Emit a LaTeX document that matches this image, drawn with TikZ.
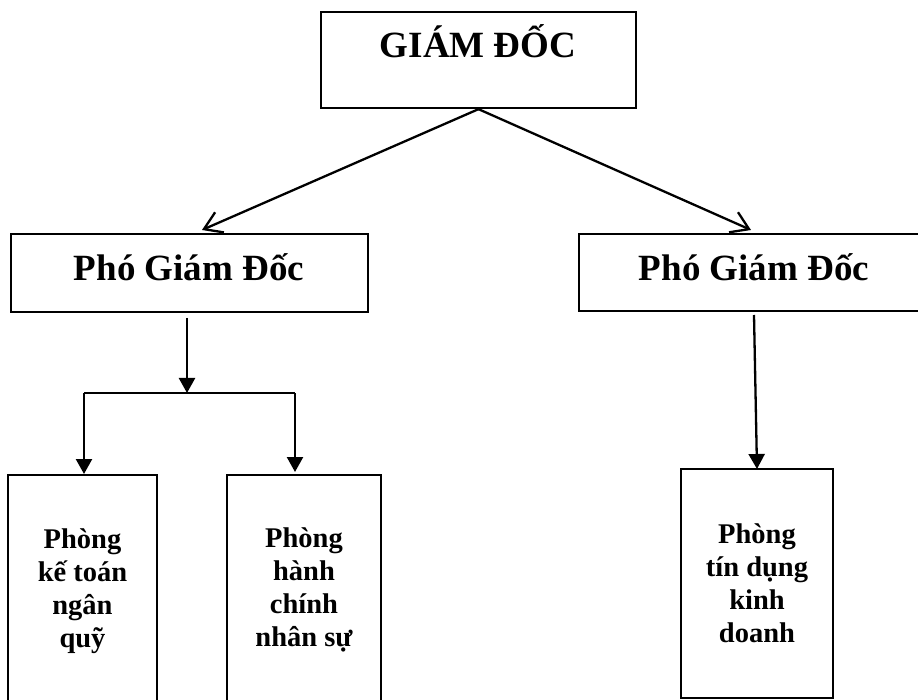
\documentclass[tikz,border=0pt]{standalone}
\usepackage{fontspec}
\setmainfont{Liberation Serif}
\usetikzlibrary{arrows.meta}
\begin{document}
\begin{tikzpicture}[x=1pt,y=-1pt,
  box/.style={draw=black,line width=2.3pt,rectangle,inner sep=0pt},
  bigtxt/.style={font=\fontsize{37}{44}\selectfont\bfseries,inner sep=0pt,anchor=base},
  smalltxt/.style={font=\fontsize{28.5}{33}\selectfont\bfseries,inner sep=0pt,align=center,anchor=center},
  conn/.style={line width=2.3pt},
  barb/.style={conn,-{Straight Barb[length=17pt,width=22pt,line width=2.3pt]}},
  tri/.style={conn,-{Triangle[length=15pt,width=16pt]}}]
\useasboundingbox (0,0) rectangle (918,700);
\clip (0,0) rectangle (918,700);
% boxes
\node[box,minimum width=315pt,minimum height=96pt] (gd) at (478.5,60) {};
\node[box,minimum width=357pt,minimum height=78pt] (pgd1) at (189.5,273) {};
\node[box,minimum width=361pt,minimum height=77pt] (pgd2) at (759.5,272.5) {};
\node[box,minimum width=149pt,minimum height=245pt] (b1) at (82.5,597.5) {};
\node[box,minimum width=154pt,minimum height=245pt] (b2) at (304,597.5) {};
\node[box,minimum width=152pt,minimum height=229pt] (b3) at (757,583.5) {};
% texts
\node[bigtxt] (gdt) at (478,58) {GIÁM ĐỐC};
\node[bigtxt] (pgd1t) at (189,281) {Phó Giám Đốc};
\node[bigtxt] (pgd2t) at (754,281) {Phó Giám Đốc};
\node[smalltxt] (b1t) at (82.5,591) {Phòng\\kế toán\\ngân\\quỹ};
\node[smalltxt] (b2t) at (304,590) {Phòng\\hành\\chính\\nhân sự};
\node[smalltxt] (b3t) at (757,583) {Phòng\\tín dụng\\kinh\\doanh};
% connector coordinates
\coordinate (t1) at (202,230);
\coordinate (t2) at (751,230);
\coordinate (s1) at (187,318);
\coordinate (j1) at (187,393);
\coordinate (jl) at (84,393);
\coordinate (jr) at (295,393);
\coordinate (e1) at (84,474);
\coordinate (e2) at (295,472);
\coordinate (s2) at (754,315);
\coordinate (e3) at (757,469);
% connectors
\draw[barb] (gd.south) -- (t1);
\draw[barb] (gd.south) -- (t2);
\draw[tri] (s1) -- (j1);
\draw[conn] (jl) -- (jr);
\draw[tri] (jl) -- (e1);
\draw[tri] (jr) -- (e2);
\draw[tri] (s2) -- (e3);
\end{tikzpicture}
\end{document}
